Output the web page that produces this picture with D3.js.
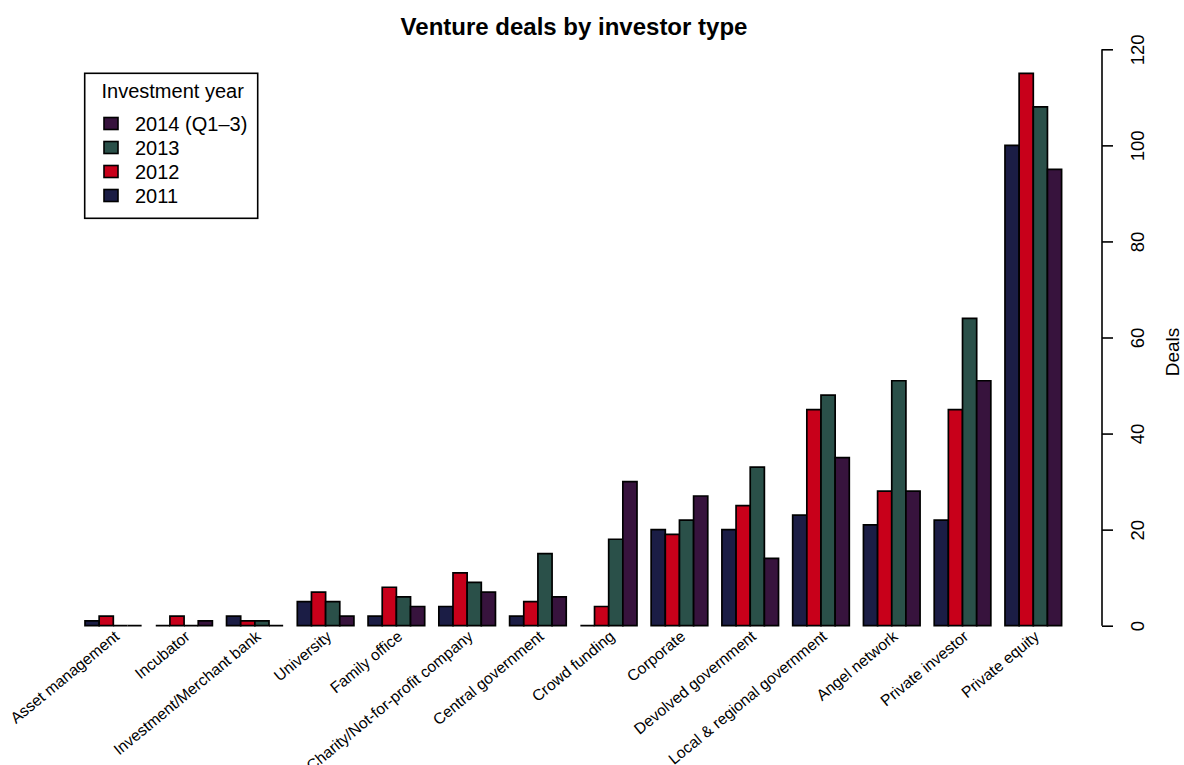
<!DOCTYPE html>
<html>
<head>
<meta charset="utf-8">
<script src="https://cdn.jsdelivr.net/npm/d3@7"></script>
<style>
  html, body { margin: 0; padding: 0; background: #ffffff; }
  svg { display: block; font-family: "Liberation Sans", Arial, Helvetica, sans-serif; }
</style>
</head>
<body>
<svg id="chart" width="1184" height="765"></svg>
<script>
// ---- data ----
const categories = [
  "Asset management", "Incubator", "Investment/Merchant bank", "University",
  "Family office", "Charity/Not-for-profit company", "Central government",
  "Crowd funding", "Corporate", "Devolved government",
  "Local & regional government", "Angel network", "Private investor", "Private equity"
];
const seriesNames = ["2011", "2012", "2013", "2014 (Q1\u20133)"];
const values2011 = [1, 0, 2, 5, 2, 4, 2, 0, 20, 20, 23, 21, 22, 100];
const values2012 = [2, 2, 1, 7, 8, 11, 5, 4, 19, 25, 45, 28, 45, 115];
const values2013 = [0, 0, 1, 5, 6, 9, 15, 18, 22, 33, 48, 51, 64, 108];
const values2014 = [0, 1, 0, 2, 4, 7, 6, 30, 27, 14, 35, 28, 51, 95];
const seriesColors = ["#1b1d45", "#c8001a", "#2a5049", "#37133d"];
const yTicks = [0, 20, 40, 60, 80, 100, 120];
const legendOrder = [3, 2, 1, 0];

const seriesValues = [values2011, values2012, values2013, values2014];

const svg = d3.select("#chart");

// ---- scales ----
const x0 = d3.scaleBand()
  .domain(categories)
  .range([70.85, 1061.6])
  .paddingInner(0.2)
  .paddingOuter(0.1)
  .align(1);

const x1 = d3.scaleBand()
  .domain(seriesNames)
  .range([0, x0.bandwidth()])
  .padding(0);

const y = d3.scaleLinear().domain([0, 120]).range([625.7, 49.3]);

// ---- bars ----
const groups = svg.append("g").selectAll("g")
  .data(categories)
  .join("g")
  .attr("transform", d => `translate(${x0(d)},0)`);

groups.selectAll("path")
  .data((d, i) => seriesNames.map((s, j) => ({ s, j, v: seriesValues[j][i] })))
  .join("path")
  .attr("d", d => {
    const xl = x1(d.s), xr = xl + x1.bandwidth();
    const yb = y(0), yt = y(d.v);
    return `M${xl},${yb}H${xr}V${yt}H${xl}Z`;
  })
  .attr("fill", d => seriesColors[d.j])
  .attr("stroke", "#000")
  .attr("stroke-width", 1.7)
  .attr("stroke-linejoin", "miter");

// ---- category labels ----
svg.append("g").selectAll("text")
  .data(categories)
  .join("text")
  .attr("transform", d => `translate(${x0(d) + x0.bandwidth() / 2 + 3.5},634) rotate(-39.5)`)
  .attr("text-anchor", "end")
  .attr("dy", "0.35em")
  .attr("font-size", 15.7)
  .attr("fill", "#000")
  .text(d => d);

// ---- right y axis ----
const yAxis = d3.axisRight(y)
  .tickValues(yTicks)
  .tickSize(11)
  .tickPadding(0)
  .tickFormat(d3.format("d"));

const axG = svg.append("g")
  .attr("transform", "translate(1102,0)")
  .call(yAxis);
axG.select(".domain")
  .attr("d", `M0,${y(0)}V${y(120)}`)
  .attr("stroke", "#000")
  .attr("stroke-width", 1.6);
axG.selectAll(".tick line").attr("stroke", "#000").attr("stroke-width", 1.6);
axG.selectAll(".tick text")
  .attr("x", null).attr("dy", null)
  .attr("transform", "translate(35,0) rotate(-90)")
  .attr("text-anchor", "middle")
  .attr("dominant-baseline", "central")
  .attr("font-size", 18.5)
  .attr("font-family", "Liberation Sans, Arial, sans-serif")
  .attr("fill", "#000");

svg.append("text")
  .attr("transform", "translate(1172,352) rotate(-90)")
  .attr("text-anchor", "middle")
  .attr("dominant-baseline", "central")
  .attr("font-size", 19)
  .text("Deals");

// ---- title ----
svg.append("text")
  .attr("x", 574)
  .attr("y", 35)
  .attr("text-anchor", "middle")
  .attr("font-size", 24)
  .attr("font-weight", "bold")
  .text("Venture deals by investor type");

// ---- legend ----
const lg = svg.append("g");
lg.append("rect")
  .attr("x", 84.7).attr("y", 73.3)
  .attr("width", 173).attr("height", 145)
  .attr("fill", "#fff")
  .attr("stroke", "#000")
  .attr("stroke-width", 1.6);
lg.append("text")
  .attr("x", 101.5).attr("y", 98)
  .attr("font-size", 20)
  .text("Investment year");

const rows = lg.selectAll("g.row")
  .data(legendOrder)
  .join("g")
  .attr("class", "row")
  .attr("transform", (d, i) => `translate(0,${123.5 + i * 24})`);
rows.append("rect")
  .attr("x", 104).attr("y", -6)
  .attr("width", 14).attr("height", 12)
  .attr("fill", d => seriesColors[d])
  .attr("stroke", "#000")
  .attr("stroke-width", 1.6);
rows.append("text")
  .attr("x", 135).attr("y", 0)
  .attr("dominant-baseline", "central")
  .attr("font-size", 20)
  .text(d => seriesNames[d]);
</script>
</body>
</html>
